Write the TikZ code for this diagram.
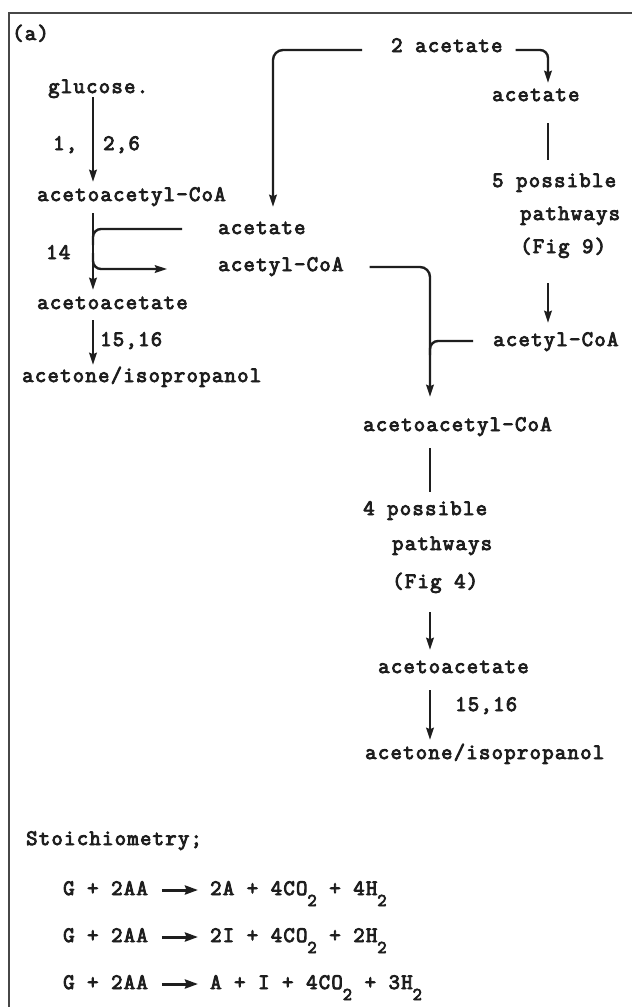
\documentclass[tikz,border=0pt]{standalone}
\usepackage{fontspec}
\newfontfamily\tw[WordSpace={1,0,0}, LetterSpace=6,
  BoldFont={Latin Modern Mono}, BoldFeatures={FakeBold=4}]{Latin Modern Mono}
\usetikzlibrary{arrows.meta}
\definecolor{ink}{HTML}{1E1E1E}
\newcommand\subtwo{\raisebox{-11pt}{\fontsize{18}{18}\selectfont 2}}
\begin{document}
\begin{tikzpicture}[x=1pt,y=-1pt,
  lbl/.style={anchor=base west, inner sep=0pt, text height=14pt, text depth=4pt,
              text=ink, font=\tw\bfseries\fontsize{22}{24}\selectfont},
  link/.style={line width=2.4pt, draw=ink},
  arr/.style={link, -{Stealth[length=12pt,width=7.5pt,inset=1.5pt]}},
  eqarr/.style={line width=3pt, draw=ink, -{Stealth[length=13pt,width=9pt,inset=1.5pt]}},
  frame/.style={line width=2.6pt, draw=black!72}]
\useasboundingbox (0,0) rectangle (632,1007);
\fill[white] (0,0) rectangle (632,1007);

% frame (top and left edges)
\draw[frame] (8,13) -- (632,13);
\draw[frame] (9,13) -- (9,1007);

% column guides
\coordinate (sp) at (93,0);
\coordinate (c1) at (273,0);
\coordinate (c2) at (548,0);
\coordinate (c3) at (430,0);

% left pathway
\node[lbl] (tag)    at (12,40)  {(a)};
\node[lbl] (glc)    at (48,93)  {glucose.};
\node[lbl] (aacoa1) at (37,201) {acetoacetyl-CoA};
\node[lbl] (aa1)    at (37,309) {acetoacetate};
\node[lbl] (acip1)  at (22,382) {acetone/isopropanol};
\node[lbl] (l1)     at (53,150) {1,};
\node[lbl] (l26)    at (103,150){2,6};
\node[lbl] (l14)    at (46,259) {14};
\node[lbl] (l1516a) at (100,346){15,16};

% middle
\node[lbl] (ac2)    at (391,52)  {2 acetate};
\node[lbl] (acm)    at (218,234) {acetate};
\node[lbl] (acoam)  at (218,271) {acetyl-CoA};

% right pathway
\node[lbl] (acr)    at (492,101) {acetate};
\node[lbl] (p5)     at (492,187) {5 possible};
\node[lbl] (pw5)    at (520,220) {pathways};
\node[lbl] (fig9)   at (520,253) {(Fig 9)};
\node[lbl] (acoar)  at (493,346) {acetyl-CoA};
\node[lbl] (aacoa2) at (363,431) {acetoacetyl-CoA};
\node[lbl] (p4)     at (363,515) {4 possible};
\node[lbl] (pw4)    at (392,550) {pathways};
\node[lbl] (fig4)   at (392,588) {(Fig 4)};
\node[lbl] (aa2)    at (378,673) {acetoacetate};
\node[lbl] (l1516b) at (455,711) {15,16};
\node[lbl] (acip2)  at (365,759) {acetone/isopropanol};

% stoichiometry
\node[lbl] (st)  at (26,845) {Stoichiometry;};
\node[lbl] (e1l) at (63,895) {G + 2AA};
\node[lbl] (e1r) at (210,895) {2A + 4CO\subtwo{} + 4H\subtwo};
\node[lbl] (e2l) at (63,942) {G + 2AA};
\node[lbl] (e2r) at (210,942) {2I + 4CO\subtwo{} + 2H\subtwo};
\node[lbl] (e3l) at (63,989) {G + 2AA};
\node[lbl] (e3r) at (210,989) {A + I + 4CO\subtwo{} + 3H\subtwo};

% left connectors
\draw[arr, shorten >=5pt] (glc.south -| sp) -- (aacoa1.north -| sp);
\draw[arr, shorten <=8pt, shorten >=5pt] (aacoa1.south -| sp) -- (aa1.north -| sp);
\draw[link, rounded corners=8pt] ([xshift=-36pt]acm.west) -- (sp |- acm.west) -- ++(0,16);
\path (sp |- acoam.west) ++(0,-13) coordinate (j1);
\path (sp |- acoam.west) ++(0,3) coordinate (j2);
\draw[arr, rounded corners=8pt] (j1) -- (j2) -- ([xshift=-51pt,yshift=-3pt]acoam.west);
\draw[arr, shorten <=7pt, shorten >=3pt] (aa1.south -| sp) -- (acip1.north -| sp);

% acetate split
\draw[arr, rounded corners=10pt, shorten >=13pt] ([xshift=-29pt,yshift=-3pt]ac2.west) -- (c1 |- 0,50) -- (acm.north -| c1);
\draw[arr, rounded corners=8pt, shorten >=4pt] ([xshift=13pt,yshift=-3pt]ac2.east) -- (c2 |- 0,50) -- (acr.north -| c2);

% right column
\draw[link, shorten <=18pt, shorten >=13pt] (acr.south -| c2) -- (p5.north -| c2);
\draw[arr, shorten <=26pt, shorten >=9pt] (fig9.south -| c2) -- (acoar.north -| c2);
\draw[arr, rounded corners=10pt, shorten >=20pt] ([xshift=26pt,yshift=-1pt]acoam.east) -- (c3 |- 0,267) -- (aacoa2.north -| c3);
\path (c3 |- acoar.west) ++(0,14) coordinate (j3);
\draw[link, rounded corners=8pt] ([xshift=-20pt]acoar.west) -- (c3 |- acoar.west) -- (j3);
\draw[link, shorten <=13pt, shorten >=9pt] (aacoa2.south -| c3) -- (p4.north -| c3);
\draw[arr, shorten <=20pt, shorten >=9pt] (fig4.south -| c3) -- (aa2.north -| c3);
\draw[arr, shorten <=13pt, shorten >=5pt] (aa2.south -| c3) -- (acip2.north -| c3);

% reaction arrows
\draw[eqarr, shorten <=14pt, shorten >=12pt] (e1l.east) -- (e1r.west);
\draw[eqarr, shorten <=14pt, shorten >=12pt] (e2l.east) -- (e2r.west);
\draw[eqarr, shorten <=14pt, shorten >=12pt] (e3l.east) -- (e3r.west);
\end{tikzpicture}
\end{document}
